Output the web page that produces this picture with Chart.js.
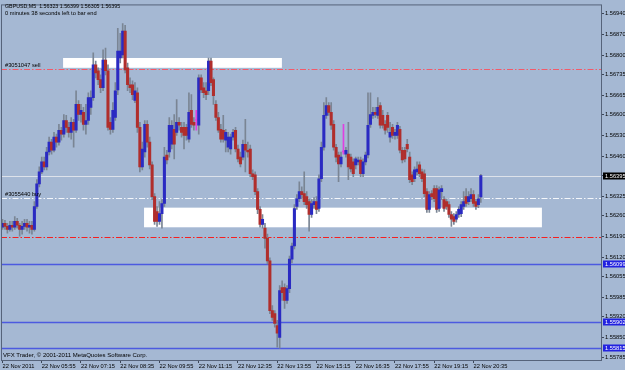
<!DOCTYPE html>
<html>
<head>
<meta charset="utf-8">
<script src="https://cdn.jsdelivr.net/npm/chart.js@4.4.0/dist/chart.umd.min.js"></script>
<style>
  html, body { margin: 0; padding: 0; background: #a5b8d3; }
  #c { display: block; }
</style>
</head>
<body>
<canvas id="c" width="625" height="370"></canvas>
<script>
// GBPUSD M5, 22 Nov 2011 - one entry per bar
var opens = [1.56221,1.56234,1.56224,1.56214,1.56228,1.56221,1.56241,1.56228,1.56214,1.56224,1.56234,1.56221,1.56228,1.56214,1.56291,1.56367,1.56407,1.56441,1.56424,1.56474,
  1.56507,1.56480,1.56524,1.56507,1.56547,1.56534,1.56580,1.56557,1.56540,1.56574,1.56547,1.56634,1.56600,1.56607,1.56567,1.56580,1.56624,1.56657,1.56767,1.56747,
  1.56717,1.56690,1.56783,1.56747,1.56574,1.56550,1.56590,1.56683,1.56790,1.56800,1.56880,1.56757,1.56700,1.56700,1.56647,1.56673,1.56557,1.56424,1.56474,1.56567,
  1.56507,1.56431,1.56324,1.56274,1.56241,1.56267,1.56301,1.56464,1.56474,1.56500,1.56550,1.56540,1.56574,1.56557,1.56557,1.56557,1.56517,1.56614,1.56574,1.56580,
  1.56564,1.56723,1.56690,1.56680,1.56680,1.56780,1.56717,1.56634,1.56590,1.56550,1.56547,1.56514,1.56490,1.56484,1.56524,1.56547,1.56484,1.56457,1.56457,1.56500,
  1.56480,1.56484,1.56401,1.56397,1.56341,1.56281,1.56231,1.56218,1.56184,1.56108,1.55941,1.55931,1.55891,1.55851,1.56018,1.56018,1.55975,1.56015,1.56114,1.56158,
  1.56291,1.56317,1.56341,1.56334,1.56324,1.56307,1.56264,1.56297,1.56307,1.56284,1.56384,1.56490,1.56597,1.56630,1.56607,1.56567,1.56490,1.56464,1.56434,1.56474,
  1.56467,1.56467,1.56457,1.56441,1.56431,1.56441,1.56447,1.56401,1.56441,1.56464,1.56567,1.56597,1.56607,1.56597,1.56630,1.56597,1.56567,1.56597,1.56524,1.56557,
  1.56530,1.56530,1.56550,1.56480,1.56480,1.56500,1.56457,1.56397,1.56384,1.56407,1.56431,1.56407,1.56401,1.56341,1.56281,1.56334,1.56351,1.56351,1.56284,1.56341,
  1.56314,1.56307,1.56297,1.56264,1.56257,1.56248,1.56264,1.56267,1.56291,1.56324,1.56307,1.56317,1.56331,1.56307,1.56297,1.56323];
var highs = [1.56248,1.56244,1.56234,1.56241,1.56241,1.56257,1.56251,1.56234,1.56241,1.56248,1.56248,1.56241,1.56241,1.56307,1.56381,1.56424,1.56457,1.56457,1.56490,1.56524,
  1.56517,1.56540,1.56534,1.56567,1.56557,1.56600,1.56597,1.56574,1.56590,1.56584,1.56680,1.56647,1.56634,1.56624,1.56634,1.56673,1.56680,1.56807,1.56780,1.56757,
  1.56733,1.56817,1.56823,1.56767,1.56590,1.56640,1.56707,1.56890,1.56873,1.56906,1.56900,1.56773,1.56723,1.56713,1.56707,1.56690,1.56574,1.56507,1.56580,1.56580,
  1.56524,1.56441,1.56334,1.56291,1.56307,1.56314,1.56490,1.56480,1.56590,1.56580,1.56600,1.56650,1.56590,1.56574,1.56574,1.56567,1.56673,1.56667,1.56590,1.56614,
  1.56733,1.56733,1.56707,1.56707,1.56790,1.56790,1.56723,1.56647,1.56607,1.56567,1.56597,1.56550,1.56540,1.56534,1.56550,1.56557,1.56497,1.56474,1.56514,1.56584,
  1.56507,1.56497,1.56414,1.56407,1.56351,1.56291,1.56264,1.56234,1.56198,1.56118,1.55958,1.55941,1.55908,1.56025,1.56041,1.56031,1.56025,1.56124,1.56168,1.56297,
  1.56331,1.56374,1.56357,1.56407,1.56341,1.56317,1.56314,1.56321,1.56324,1.56397,1.56507,1.56640,1.56657,1.56640,1.56640,1.56580,1.56500,1.56474,1.56474,1.56567,
  1.56490,1.56574,1.56467,1.56451,1.56457,1.56457,1.56457,1.56451,1.56474,1.56673,1.56673,1.56624,1.56624,1.56657,1.56640,1.56614,1.56580,1.56607,1.56574,1.56567,
  1.56550,1.56574,1.56560,1.56490,1.56490,1.56517,1.56474,1.56407,1.56424,1.56441,1.56441,1.56417,1.56414,1.56351,1.56341,1.56344,1.56361,1.56361,1.56357,1.56361,
  1.56324,1.56317,1.56307,1.56274,1.56267,1.56274,1.56291,1.56307,1.56341,1.56351,1.56341,1.56351,1.56344,1.56317,1.56331,1.56399];
var lows = [1.56214,1.56214,1.56201,1.56208,1.56208,1.56214,1.56218,1.56191,1.56198,1.56214,1.56208,1.56201,1.56198,1.56208,1.56284,1.56357,1.56401,1.56414,1.56414,1.56464,
  1.56467,1.56474,1.56490,1.56497,1.56514,1.56524,1.56540,1.56524,1.56517,1.56490,1.56540,1.56580,1.56574,1.56547,1.56534,1.56567,1.56600,1.56647,1.56723,1.56700,
  1.56673,1.56680,1.56733,1.56547,1.56534,1.56540,1.56580,1.56667,1.56773,1.56790,1.56740,1.56680,1.56673,1.56650,1.56640,1.56540,1.56407,1.56414,1.56457,1.56490,
  1.56417,1.56314,1.56231,1.56224,1.56231,1.56218,1.56291,1.56434,1.56457,1.56484,1.56451,1.56530,1.56547,1.56524,1.56484,1.56514,1.56507,1.56557,1.56547,1.56547,
  1.56534,1.56673,1.56657,1.56650,1.56667,1.56697,1.56634,1.56580,1.56540,1.56507,1.56507,1.56474,1.56474,1.56467,1.56514,1.56474,1.56441,1.56424,1.56447,1.56407,
  1.56457,1.56391,1.56381,1.56331,1.56267,1.56221,1.56218,1.56151,1.56098,1.55931,1.55908,1.55885,1.55818,1.55815,1.55975,1.55948,1.55965,1.56001,1.56101,1.56148,
  1.56281,1.56307,1.56317,1.56297,1.56284,1.56208,1.56254,1.56284,1.56267,1.56274,1.56374,1.56480,1.56587,1.56597,1.56550,1.56480,1.56441,1.56374,1.56424,1.56467,
  1.56457,1.56381,1.56407,1.56391,1.56417,1.56431,1.56391,1.56391,1.56431,1.56454,1.56557,1.56587,1.56590,1.56587,1.56554,1.56554,1.56534,1.56540,1.56507,1.56520,
  1.56517,1.56520,1.56471,1.56437,1.56441,1.56474,1.56371,1.56364,1.56374,1.56397,1.56391,1.56374,1.56324,1.56271,1.56271,1.56314,1.56307,1.56271,1.56274,1.56314,
  1.56274,1.56281,1.56254,1.56224,1.56231,1.56238,1.56254,1.56257,1.56281,1.56291,1.56297,1.56307,1.56291,1.56281,1.56287,1.56305];
var closes = [1.56234,1.56224,1.56214,1.56228,1.56221,1.56241,1.56228,1.56214,1.56224,1.56234,1.56221,1.56228,1.56214,1.56291,1.56367,1.56407,1.56441,1.56424,1.56474,1.56507,
  1.56480,1.56524,1.56507,1.56547,1.56534,1.56580,1.56557,1.56540,1.56574,1.56547,1.56634,1.56600,1.56614,1.56567,1.56580,1.56657,1.56657,1.56767,1.56740,1.56717,
  1.56690,1.56783,1.56747,1.56557,1.56550,1.56614,1.56680,1.56813,1.56813,1.56880,1.56750,1.56700,1.56690,1.56667,1.56680,1.56557,1.56424,1.56484,1.56567,1.56507,
  1.56431,1.56324,1.56241,1.56241,1.56267,1.56301,1.56457,1.56447,1.56564,1.56564,1.56500,1.56574,1.56564,1.56540,1.56530,1.56530,1.56607,1.56567,1.56564,1.56580,
  1.56723,1.56683,1.56673,1.56667,1.56780,1.56707,1.56663,1.56590,1.56547,1.56517,1.56517,1.56540,1.56524,1.56524,1.56540,1.56484,1.56451,1.56434,1.56500,1.56480,
  1.56474,1.56401,1.56391,1.56341,1.56281,1.56231,1.56248,1.56184,1.56108,1.55941,1.55918,1.55898,1.55865,1.56008,1.56001,1.55975,1.56015,1.56114,1.56158,1.56284,
  1.56317,1.56341,1.56331,1.56307,1.56297,1.56264,1.56301,1.56307,1.56281,1.56384,1.56490,1.56597,1.56630,1.56607,1.56564,1.56490,1.56457,1.56434,1.56457,1.56474,
  1.56480,1.56424,1.56417,1.56401,1.56451,1.56447,1.56401,1.56441,1.56464,1.56564,1.56600,1.56607,1.56600,1.56624,1.56564,1.56564,1.56547,1.56557,1.56540,1.56530,
  1.56540,1.56564,1.56480,1.56447,1.56451,1.56484,1.56381,1.56374,1.56414,1.56417,1.56401,1.56384,1.56334,1.56281,1.56331,1.56324,1.56317,1.56281,1.56347,1.56351,
  1.56284,1.56291,1.56264,1.56248,1.56241,1.56264,1.56281,1.56297,1.56307,1.56301,1.56324,1.56331,1.56301,1.56291,1.56317,1.56395];

// time axis labels, one every 16 bars
var timeLabels = ['22 Nov 2011','22 Nov 05:55','22 Nov 07:15','22 Nov 08:35','22 Nov 09:55','22 Nov 11:15','22 Nov 12:35',
  '22 Nov 13:55','22 Nov 15:15','22 Nov 16:35','22 Nov 17:55','22 Nov 19:15','22 Nov 20:35'];
var timeTickBars = [0,16,32,48,64,80,96,112,128,144,160,176,192];
var priceTicks = [1.56940,1.56870,1.56800,1.56735,1.56665,1.56600,1.56530,1.56460,1.56395,1.56325,1.56260,1.56190,
  1.56120,1.56055,1.55985,1.55920,1.55850,1.55785];

// objects on the chart
var sellPrice = 1.56754, buyPrice = 1.56318, stopPrice = 1.56188, bidPrice = 1.56395;
var blueLevels = [1.56099, 1.55902, 1.55815];
var zoneFrom = [24.7, 57.7], zoneTo = [113.9, 219.9];
var zoneHigh = [1.56790, 1.56287], zoneLow = [1.56757, 1.56221];

var FONT = '"Liberation Sans", Arial, sans-serif';
var BG = '#a5b8d3';

function bodyColor(i) {
  if (closes[i] > opens[i]) return '#2a2ac2';
  if (closes[i] < opens[i]) return '#b02e2c';
  return '#e040e0';
}

var wickData = [], bodyData = [], bodyColors = [], wickColors = [];
for (var i = 0; i < opens.length; i++) {
  wickData.push({x: i, y: [lows[i], highs[i]]});
  bodyData.push({x: i, y: [opens[i], closes[i]]});
  bodyColors.push(bodyColor(i));
  wickColors.push(opens[i] == closes[i] ? '#e040e0' : '#7a8594');
}

function hline(ctx, area, yPx, color, width, dash) {
  ctx.save();
  ctx.strokeStyle = color;
  ctx.lineWidth = width;
  ctx.setLineDash(dash);
  ctx.beginPath();
  var yy = Math.round(yPx) + 0.5;
  ctx.moveTo(area.left, yy);
  ctx.lineTo(area.right, yy);
  ctx.stroke();
  ctx.restore();
}

function priceBox(ctx, area, yPx, bg, label) {
  ctx.fillStyle = bg;
  ctx.fillRect(area.right + 2, Math.round(yPx) - 3.5, 24, 7);
  ctx.fillStyle = '#ffffff';
  ctx.font = '5.7px ' + FONT;
  ctx.textBaseline = 'middle';
  ctx.textAlign = 'left';
  ctx.fillText(label, area.right + 4, yPx + 0.5);
}

var mt4Objects = {
  id: 'mt4Objects',
  beforeDraw: function(chart) {
    var ctx = chart.ctx;
    ctx.save();
    ctx.fillStyle = BG;
    ctx.fillRect(0, 0, chart.width, chart.height);
    ctx.restore();
  },
  beforeDatasetsDraw: function(chart) {
    var ctx = chart.ctx, a = chart.chartArea, x = chart.scales.x, y = chart.scales.y;
    ctx.save();
    ctx.beginPath();
    ctx.rect(a.left, a.top, a.right - a.left, a.bottom - a.top);
    ctx.clip();
    ctx.fillStyle = '#ffffff';
    for (var k = 0; k < zoneFrom.length; k++) {
      var x1 = x.getPixelForValue(zoneFrom[k]), x2 = x.getPixelForValue(zoneTo[k]);
      var y1 = y.getPixelForValue(zoneHigh[k]), y2 = y.getPixelForValue(zoneLow[k]);
      ctx.fillRect(x1, y1, x2 - x1, y2 - y1);
    }
    hline(ctx, a, y.getPixelForValue(bidPrice), '#dde2ea', 1, []);
    hline(ctx, a, y.getPixelForValue(sellPrice), '#f25a6a', 1, [6, 2, 1.5, 2]);
    hline(ctx, a, y.getPixelForValue(buyPrice), '#f4f7fb', 1, [6, 2, 1.5, 2]);
    hline(ctx, a, y.getPixelForValue(stopPrice), '#f52020', 1, [6, 2, 1.5, 2]);
    blueLevels.forEach(function(p) {
      hline(ctx, a, y.getPixelForValue(p), '#4c5ae0', 1.5, []);
    });
    ctx.restore();
  },
  afterDraw: function(chart) {
    var ctx = chart.ctx, a = chart.chartArea, y = chart.scales.y;
    ctx.save();
    // frame
    ctx.strokeStyle = '#56637a';
    ctx.lineWidth = 1;
    ctx.strokeRect(a.left + 0.5, a.top + 0.5, a.right - a.left, a.bottom - a.top);
    // texts
    ctx.fillStyle = '#000000';
    ctx.textAlign = 'left';
    ctx.textBaseline = 'alphabetic';
    ctx.font = '5.3px ' + FONT;
    ctx.fillText('GBPUSD,M5  ' + opens[opens.length - 1].toFixed(5) + ' ' + highs[highs.length - 1].toFixed(5) + ' ' +
      lows[lows.length - 1].toFixed(5) + ' ' + closes[closes.length - 1].toFixed(5), 5, 7.5);
    ctx.font = '5.7px ' + FONT;
    ctx.fillText('0 minutes 38 seconds left to bar end', 5, 15);
    ctx.fillText('#3051047 sell', 5, y.getPixelForValue(sellPrice) - 2);
    ctx.fillText('#3055440 buy', 5, y.getPixelForValue(buyPrice) - 2);
    ctx.font = '6px ' + FONT;
    ctx.fillText('VFX Trader, \u00a9 2001-2011 MetaQuotes Software Corp.', 3, a.bottom - 3);
    // price labels on the axis
    priceBox(ctx, a, y.getPixelForValue(bidPrice), '#000000', bidPrice.toFixed(5));
    blueLevels.forEach(function(p) {
      priceBox(ctx, a, y.getPixelForValue(p), '#2222e0', p.toFixed(5));
    });
    ctx.restore();
  }
};

new Chart(document.getElementById('c'), {
  type: 'bar',
  data: {
    datasets: [
      { data: bodyData, backgroundColor: bodyColors, barThickness: 2.4, minBarLength: 1, grouped: false, order: 0 },
      { data: wickData, backgroundColor: wickColors, barThickness: 1, grouped: false, order: 1 }
    ]
  },
  options: {
    responsive: false,
    animation: false,
    devicePixelRatio: 1,
    layout: { padding: { left: 1, top: 1, right: 0, bottom: 0 } },
    plugins: { legend: { display: false }, tooltip: { enabled: false } },
    scales: {
      x: {
        type: 'linear',
        min: -0.61,
        max: 243.99,
        offset: false,
        grid: { display: true, drawOnChartArea: false, drawTicks: true, tickLength: 3, tickColor: '#3c4658', offset: false },
        border: { display: false },
        afterBuildTicks: function(s) { s.ticks = timeTickBars.map(function(v) { return {value: v}; }); },
        afterFit: function(s) { s.height = 10; },
        ticks: {
          autoSkip: false, maxRotation: 0, align: 'start', padding: 0, color: '#000000',
          font: { family: FONT, size: 5.7 },
          callback: function(v, idx) { return timeLabels[idx]; }
        }
      },
      y: {
        type: 'linear',
        position: 'right',
        min: 1.55775,
        max: 1.56970,
        grid: { display: true, drawOnChartArea: false, drawTicks: true, tickLength: 3, tickColor: '#3c4658' },
        border: { display: false },
        afterBuildTicks: function(s) { s.ticks = priceTicks.map(function(v) { return {value: v}; }); },
        afterFit: function(s) { s.width = 24; },
        ticks: {
          padding: 1, color: '#000000',
          font: { family: FONT, size: 5.7 },
          callback: function(v) { return v.toFixed(5); }
        }
      }
    }
  },
  plugins: [mt4Objects]
});
</script>
</body>
</html>
